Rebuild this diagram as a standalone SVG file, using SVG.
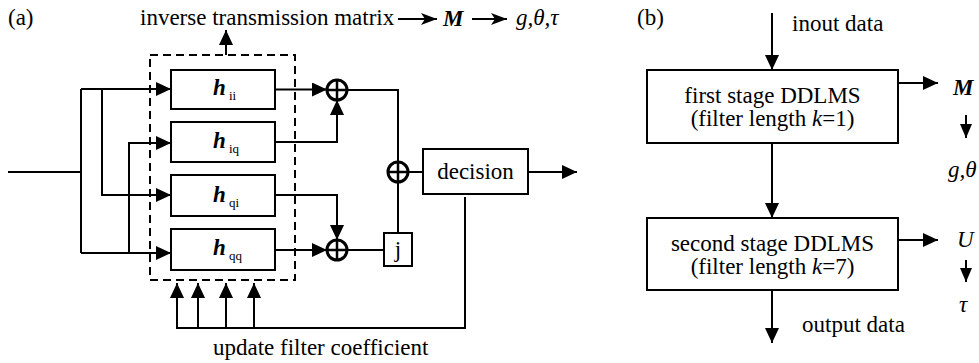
<svg xmlns="http://www.w3.org/2000/svg" width="979" height="363" viewBox="0 0 979 363">
<style>
text{font-family:'Liberation Serif','Times New Roman',Times,'DejaVu Serif',serif;font-size:23px;fill:#000}
.it{font-style:italic}
.bi{font-style:italic;font-weight:bold}
.sub{font-size:13px}
.c{stroke:#000;stroke-width:2;fill:none}
.box{stroke:#000;stroke-width:2;fill:#fff}
.sum{stroke:#000;stroke-width:3;fill:#fff}
.plus{stroke:#000;stroke-width:2.5}
</style>
<defs>
<marker id="ah" markerUnits="userSpaceOnUse" markerWidth="16" markerHeight="14" refX="15" refY="7" orient="auto"><path d="M0,0 L15,7 L0,14 z" fill="#000"/></marker>
<marker id="st" markerUnits="userSpaceOnUse" markerWidth="17" markerHeight="12" refX="16" refY="6" orient="auto"><path d="M0,0 L16,6 L0,12 L4,6 z" fill="#000"/></marker>
<marker id="sm" markerUnits="userSpaceOnUse" markerWidth="15" markerHeight="13" refX="14" refY="6" orient="auto"><path d="M0,0 L14,6 L0,12 z" fill="#000"/></marker>
</defs>

<text x="8" y="25">(a)</text>
<text x="637" y="25">(b)</text>

<g id="connectors">
<path class="c" d="M8,172 H81"/>
<path class="c" d="M81,89 V253"/>
<path class="c" d="M81,89 H171" marker-end="url(#ah)"/>
<path class="c" d="M102,89 V195 H171" marker-end="url(#ah)"/>
<path class="c" d="M81,253 H171" marker-end="url(#ah)"/>
<path class="c" d="M129,253 V143 H171" marker-end="url(#ah)"/>
<path class="c" d="M275,89.5 H327" marker-end="url(#ah)"/>
<path class="c" d="M275,142 H337 V100" marker-end="url(#ah)"/>
<path class="c" d="M275,195 H337 V240" marker-end="url(#ah)"/>
<path class="c" d="M275,250 H327" marker-end="url(#ah)"/>
<path class="c" d="M347,90 H398 V162"/>
<path class="c" d="M398,182 V233"/>
<path class="c" d="M347,250 H384"/>
<path class="c" d="M408,172 H423"/>
<path class="c" d="M528,172 H577" marker-end="url(#ah)"/>
<path class="c" d="M465,197 V328 H177 V283" marker-end="url(#ah)"/>
<path class="c" d="M198,328 V283" marker-end="url(#ah)"/>
<path class="c" d="M226,328 V283" marker-end="url(#ah)"/>
<path class="c" d="M254,328 V283" marker-end="url(#ah)"/>
<path class="c" d="M226,55 V30" marker-end="url(#ah)"/>
<path class="c" d="M398,19 H437" marker-end="url(#st)"/>
<path class="c" d="M472,19 H507" marker-end="url(#st)"/>
<path class="c" d="M772,13 V70" marker-end="url(#ah)"/>
<path class="c" d="M772,143 V218" marker-end="url(#ah)"/>
<path class="c" d="M772,290 V343" marker-end="url(#ah)"/>
<path class="c" d="M898,83 H938" marker-end="url(#ah)"/>
<path class="c" d="M898,240 H938" marker-end="url(#ah)"/>
<path class="c" d="M966,115 V138" marker-end="url(#sm)"/>
<path class="c" d="M966,260 V282" marker-end="url(#sm)"/>
</g>

<g id="filterbank">
<rect x="150" y="55" width="145" height="225" fill="none" stroke="#000" stroke-width="2" stroke-dasharray="8,5"/>
</g>

<g id="h_ii"><rect class="box" x="171" y="70" width="104" height="39"/><text class="bi" x="213" y="95" font-size="24">h</text><text class="sub" x="229" y="100">ii</text></g>
<g id="h_iq"><rect class="box" x="171" y="122" width="104" height="40"/><text class="bi" x="213" y="148" font-size="24">h</text><text class="sub" x="229" y="153">iq</text></g>
<g id="h_qi"><rect class="box" x="171" y="175" width="104" height="41"/><text class="bi" x="213" y="202" font-size="24">h</text><text class="sub" x="229" y="207">qi</text></g>
<g id="h_qq"><rect class="box" x="171" y="229" width="104" height="41"/><text class="bi" x="213" y="255" font-size="24">h</text><text class="sub" x="229" y="260">qq</text></g>

<g id="sum1"><circle class="sum" cx="337" cy="90" r="10"/><path class="plus" d="M327,90 H347 M337,80 V100"/></g>
<g id="sum2"><circle class="sum" cx="398" cy="172" r="10"/><path class="plus" d="M388,172 H408 M398,162 V182"/></g>
<g id="sum3"><circle class="sum" cx="337" cy="250" r="10"/><path class="plus" d="M327,250 H347 M337,240 V260"/></g>

<g id="j"><rect class="box" x="384" y="233" width="28" height="33"/><text x="398" y="257" text-anchor="middle" font-size="22">j</text></g>
<g id="decision"><rect class="box" x="423" y="149" width="105" height="45"/><text x="475.5" y="179" text-anchor="middle">decision</text></g>

<g id="top-label">
<text x="140" y="25">inverse transmission matrix</text>
<text class="bi" x="443" y="26">M</text>
<text class="it" x="516" y="25">g,θ,τ</text>
</g>
<g id="update-label"><text x="213" y="355">update filter coefficient</text></g>

<g id="input-label"><text x="792" y="31">inout data</text></g>
<g id="stage1"><rect class="box" x="647" y="70" width="251" height="73"/>
<text x="772.5" y="103" text-anchor="middle">first stage DDLMS</text>
<text x="772.5" y="126" text-anchor="middle">(filter length <tspan class="it">k</tspan>=1)</text></g>
<g id="stage2"><rect class="box" x="647" y="218" width="251" height="72"/>
<text x="772.5" y="251" text-anchor="middle">second stage DDLMS</text>
<text x="772.5" y="274" text-anchor="middle">(filter length <tspan class="it">k</tspan>=7)</text></g>
<g id="output-label"><text x="802" y="332">output data</text></g>
<g id="M-out"><text class="bi" x="953" y="95">M</text></g>
<g id="g-out"><text class="it" x="948" y="177">g,θ</text></g>
<g id="U-out"><text class="it" x="957" y="247">U</text></g>
<g id="tau-out"><text class="it" x="959" y="312">τ</text></g>
</svg>
